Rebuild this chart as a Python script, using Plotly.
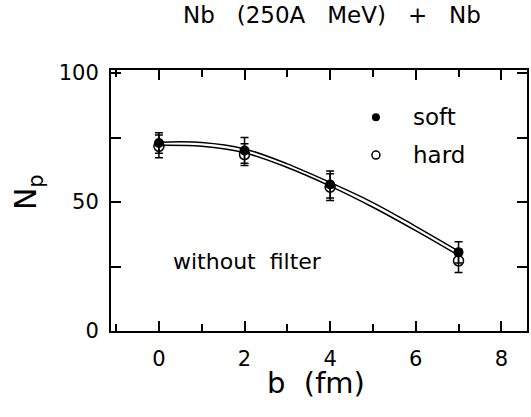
import plotly.graph_objects as go

# data
b_pts = [0, 2, 4, 7]
soft_np = [72.9, 70.0, 56.8, 30.5]
soft_err = [4.0, 5.0, 5.2, 4.1]
hard_np = [71.6, 68.4, 55.8, 27.2]
hard_err = [4.4, 4.2, 5.2, 4.5]

b_curve = [0, 1, 2, 3, 4, 5, 6, 7]
soft_curve = [73.2, 73.1, 70.6, 64.8, 57.6, 49.8, 40.6, 31.0]
hard_curve = [72.0, 71.6, 69.1, 63.4, 56.2, 48.0, 38.9, 29.3]

x_ticks = [0, 2, 4, 6, 8]
y_ticks = [0, 50, 100]

FONT = "DejaVu Sans"
fig = go.Figure()

fig.add_trace(go.Scatter(x=b_curve, y=soft_curve, mode="lines",
                         line=dict(color="black", width=1.5, shape="spline"),
                         showlegend=False, hoverinfo="skip"))
fig.add_trace(go.Scatter(x=b_curve, y=hard_curve, mode="lines",
                         line=dict(color="black", width=1.5, shape="spline"),
                         showlegend=False, hoverinfo="skip"))

fig.add_trace(go.Scatter(x=b_pts, y=hard_np, mode="markers",
                         marker=dict(symbol="circle-open", size=10, color="black", line=dict(width=1.5)),
                         error_y=dict(type="data", array=hard_err, color="black", thickness=1.5, width=4),
                         showlegend=False))
fig.add_trace(go.Scatter(x=b_pts, y=soft_np, mode="markers",
                         marker=dict(symbol="circle", size=10, color="black"),
                         error_y=dict(type="data", array=soft_err, color="black", thickness=1.5, width=4),
                         showlegend=False))

# legend markers
fig.add_trace(go.Scatter(x=[5.07], y=[82.9], mode="markers",
                         marker=dict(symbol="circle", size=8, color="black"), showlegend=False))
fig.add_trace(go.Scatter(x=[5.07], y=[68.2], mode="markers",
                         marker=dict(symbol="circle-open", size=8, color="black", line=dict(width=1.5)),
                         showlegend=False))

annots = [
    dict(x=5.88, y=82.9, xref="x", yref="y", text="soft", xanchor="left", yanchor="middle",
         showarrow=False, font=dict(family=FONT, size=23, color="black")),
    dict(x=5.88, y=68.2, xref="x", yref="y", text="hard", xanchor="left", yanchor="middle",
         showarrow=False, font=dict(family=FONT, size=23, color="black")),
    dict(x=2.06, y=26.9, xref="x", yref="y", text="without  filter", xanchor="center", yanchor="middle",
         showarrow=False, font=dict(family=FONT, size=22, color="black")),
    dict(x=0.531, y=1.21, xref="paper", yref="paper", text="Nb   (250A   MeV)   +   Nb",
         xanchor="center", yanchor="middle", showarrow=False,
         font=dict(family=FONT, size=23, color="black")),
    dict(x=0.493, y=-0.2, xref="paper", yref="paper", text="b  (fm)",
         xanchor="center", yanchor="middle", showarrow=False,
         font=dict(family=FONT, size=29, color="black")),
    dict(x=-0.199, y=0.533, xref="paper", yref="paper", text="N<sub>p</sub>", textangle=-90,
         xanchor="center", yanchor="middle", showarrow=False,
         font=dict(family=FONT, size=30, color="black")),
]

fig.update_layout(
    width=531, height=417,
    margin=dict(l=111, r=2, t=70, b=86),
    paper_bgcolor="white", plot_bgcolor="white",
    annotations=annots,
    font=dict(family=FONT, color="black"),
    xaxis=dict(range=[-1.12, 8.6], tickmode="array", tickvals=x_ticks,
               ticktext=[str(v) for v in x_ticks],
               ticks="inside", ticklen=10, tickwidth=1.5, tickcolor="black",
               minor=dict(dtick=1, tick0=0, ticks="inside", ticklen=7, tickwidth=1.5, tickcolor="black"),
               showline=True, linecolor="black", linewidth=2, mirror="allticks",
               showgrid=False, zeroline=False,
               tickfont=dict(family=FONT, size=21, color="black"), ticklabelstandoff=8),
    yaxis=dict(range=[0, 101.2], tickmode="array", tickvals=y_ticks,
               ticktext=[str(v) for v in y_ticks],
               ticks="inside", ticklen=10, tickwidth=1.5, tickcolor="black",
               minor=dict(dtick=25, tick0=0, ticks="inside", ticklen=10, tickwidth=1.5, tickcolor="black"),
               showline=True, linecolor="black", linewidth=2, mirror="allticks",
               showgrid=False, zeroline=False,
               tickfont=dict(family=FONT, size=21, color="black"), ticklabelstandoff=6),
)

# remove the default 8px page margin so the figure fills the window exactly
fig.write_html("out.html", config={"displayModeBar": False},
               post_script="document.body.style.margin='0';document.body.style.overflow='hidden';")
